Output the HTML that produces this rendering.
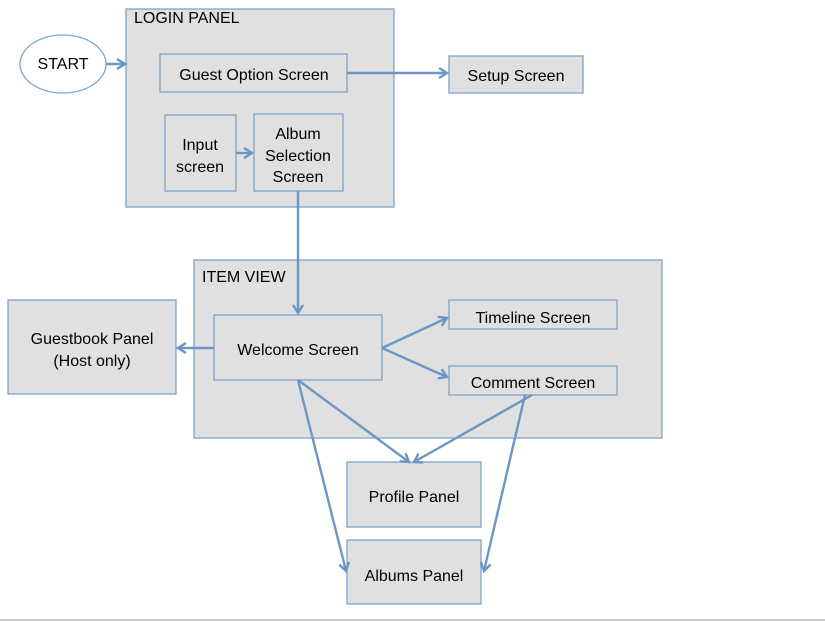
<!DOCTYPE html>
<html><head><meta charset="utf-8"><style>
html,body{margin:0;padding:0;background:#fff;}
svg{display:block;}
text{font-family:"Liberation Sans",sans-serif;font-size:16px;fill:#000;}
.b{fill:#e0e0e0;stroke:#7fa3cc;stroke-width:1.3;}
.a{stroke:#6a97c6;stroke-width:2.4;fill:none;marker-end:url(#ah);}
</style></head><body>
<svg width="825" height="622" viewBox="0 0 825 622">
<defs><marker id="ah" markerWidth="12" markerHeight="12" refX="9" refY="6" orient="auto" markerUnits="userSpaceOnUse"><path d="M1,1 L9,6 L1,11" fill="none" stroke="#6a97c6" stroke-width="2.4"/></marker></defs>
<ellipse cx="63" cy="64" rx="43" ry="29" fill="#fff" stroke="#7fa3cc" stroke-width="1.3"/>
<text x="63" y="69" text-anchor="middle" font-size="14">START</text>
<rect class="b" x="126" y="9" width="268" height="198"/>
<text x="134" y="23" font-size="15">LOGIN PANEL</text>
<rect class="b" x="160" y="54" width="187" height="38"/>
<text x="254" y="80" text-anchor="middle">Guest Option Screen</text>
<rect class="b" x="449" y="56" width="134" height="37"/>
<text x="516" y="81" text-anchor="middle">Setup Screen</text>
<rect class="b" x="165" y="115" width="71" height="76"/>
<text x="200" y="150" text-anchor="middle">Input</text>
<text x="200" y="172" text-anchor="middle">screen</text>
<rect class="b" x="254" y="114" width="89" height="77"/>
<text x="298" y="139" text-anchor="middle">Album</text>
<text x="298" y="161" text-anchor="middle">Selection</text>
<text x="298" y="182" text-anchor="middle">Screen</text>
<rect class="b" x="194" y="260" width="468" height="178"/>
<text x="202" y="282" font-size="15">ITEM VIEW</text>
<rect class="b" x="8" y="300" width="168" height="94"/>
<text x="92" y="344" text-anchor="middle">Guestbook Panel</text>
<text x="92" y="366" text-anchor="middle">(Host only)</text>
<rect class="b" x="214" y="315" width="168" height="65"/>
<text x="298" y="355" text-anchor="middle">Welcome Screen</text>
<rect class="b" x="449" y="300" width="168" height="29"/>
<text x="533" y="323" text-anchor="middle">Timeline Screen</text>
<rect class="b" x="449" y="366" width="168" height="29"/>
<text x="533" y="388" text-anchor="middle">Comment Screen</text>
<rect class="b" x="347" y="462" width="134" height="65"/>
<text x="414" y="502" text-anchor="middle">Profile Panel</text>
<rect class="b" x="347" y="540" width="134" height="64"/>
<text x="414" y="581" text-anchor="middle">Albums Panel</text>
<line x1="0" y1="620" x2="825" y2="620" stroke="#bbb" stroke-width="1.5"/>
<line class="a" x1="106" y1="64" x2="125" y2="64"/>
<line class="a" x1="347" y1="73" x2="447" y2="73"/>
<line class="a" x1="236" y1="153" x2="252" y2="153"/>
<line class="a" x1="298" y1="191" x2="298" y2="313"/>
<line class="a" x1="214" y1="348" x2="178" y2="348"/>
<line class="a" x1="382" y1="348" x2="447" y2="318"/>
<line class="a" x1="382" y1="348" x2="447" y2="377"/>
<line class="a" x1="298" y1="380" x2="409" y2="462"/>
<line class="a" x1="298" y1="380" x2="346" y2="571"/>
<line class="a" x1="532" y1="395" x2="414" y2="462"/>
<line class="a" x1="525" y1="395" x2="484" y2="571"/>
</svg>
</body></html>
